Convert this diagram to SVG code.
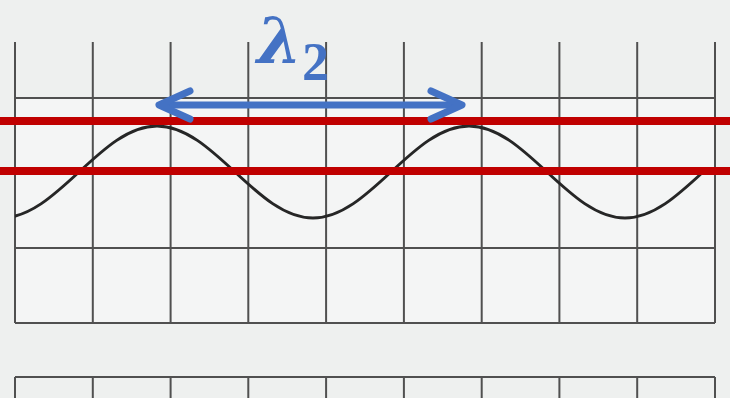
<svg xmlns="http://www.w3.org/2000/svg" width="730" height="398" viewBox="0 0 730 398">
<style>
.grid{stroke:#505050;stroke-width:2;fill:none}
.wave{stroke:#262626;stroke-width:3;fill:none}
.red{stroke:#C00000;stroke-width:8}
.arr{stroke:#4472C4;stroke-width:7;fill:none;stroke-linecap:round;stroke-linejoin:round}
.lbl{fill:#4472C4}
</style>
<defs>
<clipPath id="wc"><rect x="15" y="0" width="690" height="398"/></clipPath>
</defs>
<rect width="730" height="398" fill="#eef0ef"/>
<rect x="15" y="98" width="700" height="225" fill="#f4f5f5"/>
<g id="grid" class="grid">
<path d="M15,42V323M92.8,42V323M170.6,42V323M248.3,42V323M326.1,42V323M403.9,42V323M481.7,42V323M559.4,42V323M637.2,42V323M715,42V323"/>
<path d="M15,377V398M92.8,377V398M170.6,377V398M248.3,377V398M326.1,377V398M403.9,377V398M481.7,377V398M559.4,377V398M637.2,377V398M715,377V398"/>
<path d="M15,98H715M15,173H715M15,248H715M15,323H715M15,377H715"/>
</g>
<g id="wave">
<path class="wave" clip-path="url(#wc)" d="M1,218 C57.7,218 100.3,126 157,126 C213.7,126 256.3,218 313,218 C369.7,218 412.3,126 469,126 C525.7,126 568.3,218 625,218 C681.7,218 724.3,126 781,126"/>
</g>
<g id="redlines" class="red">
<line x1="0" y1="121" x2="730" y2="121"/>
<line x1="0" y1="171" x2="730" y2="171"/>
</g>
<g id="connectors" class="arr">
<line x1="161" y1="105" x2="459" y2="105"/>
<polyline points="190,91 159,105 190,119"/>
<polyline points="431,91 462,105 431,119"/>
</g>
<g id="label">
<text class="lbl" x="257" y="63" font-size="64" font-style="italic" font-weight="bold" font-family="'DejaVu Serif',serif">λ</text>
<text class="lbl" x="302" y="80" font-size="54" font-weight="bold" font-family="'Liberation Serif',serif">2</text>
</g>
</svg>
